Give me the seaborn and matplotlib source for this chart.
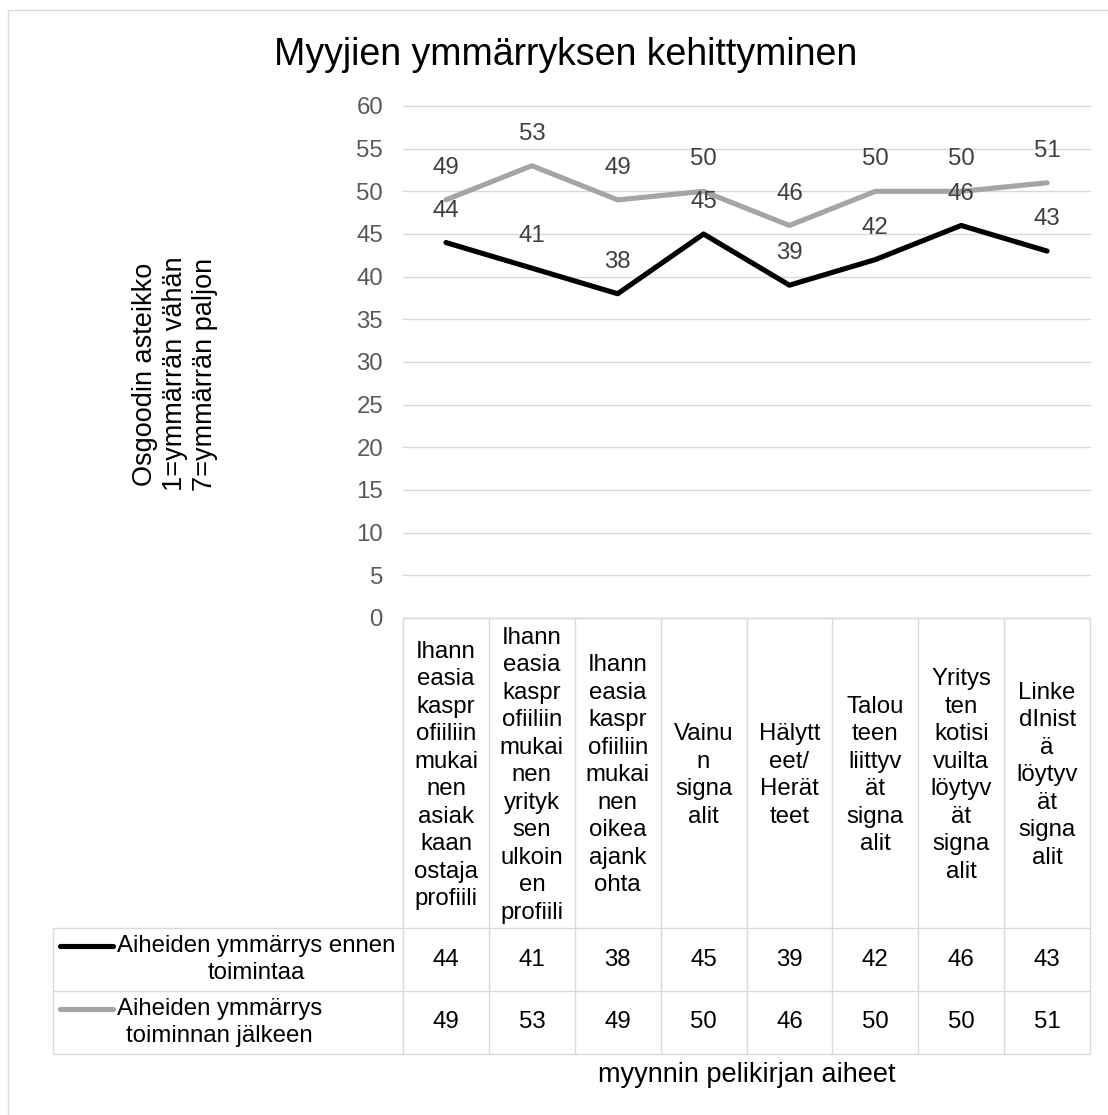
import numpy as np
import pandas as pd
import matplotlib
matplotlib.use("Agg")
import matplotlib.pyplot as plt
import matplotlib.transforms as mtransforms
import seaborn as sns

# ---------------- data ----------------
categories = [
    "Ihann\neasia\nkaspr\nofiiliin\nmukai\nnen\nasiak\nkaan\nostaja\nprofiili",
    "Ihann\neasia\nkaspr\nofiiliin\nmukai\nnen\nyrityk\nsen\nulkoin\nen\nprofiili",
    "Ihann\neasia\nkaspr\nofiiliin\nmukai\nnen\noikea\najank\nohta",
    "Vainu\nn\nsigna\nalit",
    "Hälytt\neet/\nHerät\nteet",
    "Talou\nteen\nliittyv\nät\nsigna\nalit",
    "Yritys\nten\nkotisi\nvuilta\nlöytyv\nät\nsigna\nalit",
    "Linke\ndInist\nä\nlöytyv\nät\nsigna\nalit",
]
series_names = ["Aiheiden ymmärrys ennen\ntoimintaa",
                "Aiheiden ymmärrys\ntoiminnan jälkeen"]
before = [44, 41, 38, 45, 39, 42, 46, 43]
after = [49, 53, 49, 50, 46, 50, 50, 51]
y_ticks = list(range(0, 61, 5))
title_text = "Myyjien ymmärryksen kehittyminen"
y_title = "Osgoodin asteikko\n1=ymmärrän vähän\n7=ymmärrän paljon"
x_title = "myynnin pelikirjan aiheet"
series_colors = ["#000000", "#A5A5A5"]

# ---------------- style ----------------
sns.set_theme(style="white")
plt.rcParams["font.family"] = ["Liberation Sans", "DejaVu Sans"]

W, H = 1108, 1115
PLOT_L, PLOT_R, PLOT_T, PLOT_B = 403, 1090, 106, 618
TABLE_L, ROW1_T, ROW2_T, TABLE_B = 53, 928, 991, 1054
GRID_C = "#D9D9D9"
FS = 17.3

fig = plt.figure(figsize=(W / 100, H / 100), dpi=100)
fig.patch.set_facecolor("white")
ax = fig.add_axes([PLOT_L / W, 1 - PLOT_B / H, (PLOT_R - PLOT_L) / W, (PLOT_B - PLOT_T) / H])
ax.set_facecolor("none")

n = len(categories)
df = pd.DataFrame({
    "pos": list(range(n)) * 2,
    "value": before + after,
    "series": [series_names[0]] * n + [series_names[1]] * n,
})
sns.lineplot(data=df, x="pos", y="value", hue="series", hue_order=series_names,
             palette=series_colors, linewidth=3.7, legend=False, ax=ax, sort=False)
for ln in ax.lines:
    ln.set_solid_capstyle("round")
    ln.set_solid_joinstyle("round")

ax.set_xlim(-0.5, n - 0.5)
ax.set_ylim(0, 60)
ax.set_yticks(y_ticks)
ax.set_xticks([])
ax.set_xlabel("")
ax.set_ylabel("")
ax.yaxis.grid(True, color=GRID_C, linewidth=1.0)
ax.set_axisbelow(True)
for gl in ax.get_ygridlines():
    gl.set_clip_on(False)
ax.tick_params(axis="y", length=0, pad=14.4, labelsize=FS, labelcolor="#595959")
sns.despine(ax=ax, left=True, bottom=True)

# data labels
for vals in (before, after):
    for i, v in enumerate(vals):
        ax.annotate(str(v), (i, v), xytext=(0, 23), textcoords="offset points",
                    ha="center", va="center", fontsize=FS, color="#404040")

# ---------------- overlay for table / titles ----------------
ov = fig.add_axes([0, 0, 1, 1], zorder=3)
ov.set_xlim(0, W)
ov.set_ylim(H, 0)
ov.axis("off")
ov.patch.set_visible(False)
bt = mtransforms.blended_transform_factory(ax.transData, ov.transData)

lk = dict(color=GRID_C, linewidth=1.0, solid_capstyle="butt")
# vertical column lines
for i in range(n + 1):
    ov.plot([i - 0.5, i - 0.5], [PLOT_B, TABLE_B], transform=bt, **lk)
ov.plot([TABLE_L, TABLE_L], [ROW1_T, TABLE_B], **lk)
ov.plot([-0.5, n - 0.5], [PLOT_B, PLOT_B], transform=bt, **lk)
for yy in (ROW1_T, ROW2_T, TABLE_B):
    ov.plot([TABLE_L, PLOT_R], [yy, yy], **lk)

# header (category) texts
header_c = (PLOT_B + ROW1_T) / 2
step = 27.5
for i, cat in enumerate(categories):
    lines = cat.split("\n")
    m = len(lines)
    for j, line in enumerate(lines):
        yc = header_c + (j - (m - 1) / 2) * step
        ov.text(i, yc + 8.3, line, transform=bt, ha="center", va="baseline",
                fontsize=FS, color="black")

# value rows + legend keys
row_centers = [(ROW1_T + ROW2_T) / 2, (ROW2_T + TABLE_B) / 2]
for name, color, vals, rc in zip(series_names, series_colors, (before, after), row_centers):
    for i, v in enumerate(vals):
        ov.text(i, rc, str(v), transform=bt, ha="center", va="center",
                fontsize=FS, color="black")
    ov.plot([60, 113], [rc - 14, rc - 14], color=color, linewidth=3.7,
            solid_capstyle="round")
    ov.text(117, rc, name, ha="left", va="center", multialignment="center",
            linespacing=1.3, fontsize=FS, color="black")

# titles
ov.text(566, 65, title_text, ha="center", va="baseline", fontsize=27, color="black")
ov.text((n - 1) / 2, 1075, x_title, transform=bt, ha="center", va="center",
        fontsize=19.5, color="black")
ov.text(175, 374, y_title, rotation=90, ha="center", va="center",
        multialignment="center", linespacing=1.2, fontsize=19.5, color="black")

# chart border (left/top visible)
ov.plot([8, 8], [10, H + 5], color=GRID_C, linewidth=1.0, clip_on=False)
ov.plot([8, W + 5], [10, 10], color=GRID_C, linewidth=1.0, clip_on=False)

fig.savefig("out.png", dpi=100)
